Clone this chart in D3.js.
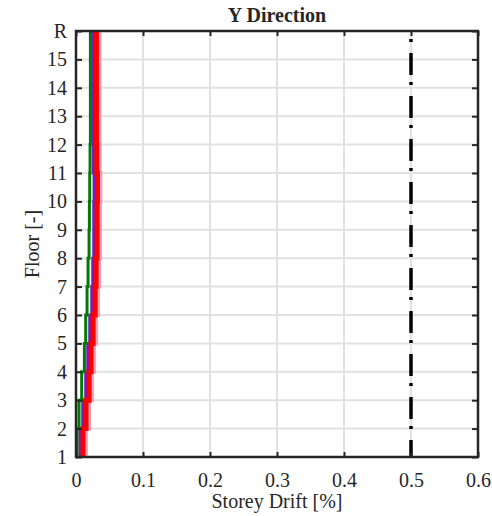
<!DOCTYPE html>
<html>
<head>
<meta charset="utf-8">
<script src="https://cdn.jsdelivr.net/npm/d3@7"></script>
<style>
  html, body { margin: 0; padding: 0; background: #fff; }
  svg { display: block; }
  text { font-family: "Liberation Serif", "Times New Roman", serif; fill: #262626; }
</style>
</head>
<body>
<svg id="chart" width="492" height="516"></svg>
<script>
// Floor levels (bottom to roof) and x-axis ticks
const floors = ["1","2","3","4","5","6","7","8","9","10","11","12","13","14","15","R"];
const xTicks = [0, 0.1, 0.2, 0.3, 0.4, 0.5, 0.6];

// Storey drift [%] per storey (storey i spans floors[i] -> floors[i+1])
const driftGreen = [0.0015, 0.0045, 0.0085, 0.0125, 0.0145, 0.0165, 0.018, 0.0195, 0.020, 0.0205, 0.021, 0.0215, 0.0215, 0.0215, 0.0215];
const driftBlue  = [0.0060, 0.0100, 0.0145, 0.0175, 0.0205, 0.0235, 0.0250, 0.0265, 0.0265, 0.027, 0.026, 0.0255, 0.0255, 0.0255, 0.0255];
const driftRed   = [0.0105, 0.0150, 0.0195, 0.0225, 0.0255, 0.0285, 0.030, 0.0315, 0.0315, 0.032, 0.031, 0.0305, 0.0305, 0.0305, 0.0305];
const driftPink  = [0.0150, 0.0195, 0.0240, 0.0270, 0.0300, 0.0330, 0.0345, 0.036, 0.036, 0.0365, 0.0355, 0.035, 0.035, 0.035, 0.035];
// Drift limit
const driftLimit = 0.5;

const svg = d3.select("#chart");
const margin = { left: 76, right: 14, top: 31, bottom: 59 };
const W = 492, H = 516;
const x = d3.scaleLinear().domain([0, 0.6]).range([margin.left, W - margin.right]);
const y = d3.scalePoint().domain(floors).range([H - margin.bottom, margin.top]);

const axisColor = "#262626";
const fontSize = "20px";

// Grid
const grid = svg.append("g");
grid.selectAll("line.gx").data(xTicks.slice(1, -1)).join("line")
  .attr("x1", d => x(d)).attr("x2", d => x(d))
  .attr("y1", y("1")).attr("y2", y("R"))
  .attr("stroke", "#e1e1e1").attr("stroke-width", 2);
grid.selectAll("line.gy").data(floors.slice(1, -1)).join("line")
  .attr("y1", d => y(d)).attr("y2", d => y(d))
  .attr("x1", x(0)).attr("x2", x(0.6))
  .attr("stroke", "#e1e1e1").attr("stroke-width", 2);

// Step profile: value held over each storey
function stepPoints(vals) {
  const pts = [];
  vals.forEach((v, i) => {
    pts.push([v, floors[i]]);
    pts.push([v, floors[i + 1]]);
  });
  return pts;
}
const line = d3.line().x(d => x(d[0])).y(d => y(d[1]));

const series = [
  { vals: driftPink, color: "#ff8da6", width: 4, opacity: 0.8 },
  { vals: driftBlue, color: "#6a1fc8", width: 3, opacity: 1 },
  { vals: driftRed, color: "#ff0000", width: 5, opacity: 1 },
  { vals: driftGreen, color: "#007a00", width: 3, opacity: 1 }
];
svg.append("g").selectAll("path").data(series).join("path")
  .attr("d", d => line(stepPoints(d.vals)))
  .attr("fill", "none")
  .attr("stroke", d => d.color)
  .attr("stroke-width", d => d.width)
  .attr("stroke-opacity", d => d.opacity);

// Drift limit line (dash-dot)
svg.append("line")
  .attr("x1", x(driftLimit)).attr("x2", x(driftLimit))
  .attr("y1", y("R")).attr("y2", y("1"))
  .attr("stroke", "#000").attr("stroke-width", 3.5)
  .attr("stroke-dasharray", "22,7,3,11")
  .attr("stroke-dashoffset", 21);

// Axes
const xAxis = d3.axisBottom(x).tickValues(xTicks).tickFormat(d3.format("")).tickSizeInner(-5).tickSizeOuter(0).tickPadding(16);
const xAxisTop = d3.axisTop(x).tickValues(xTicks).tickFormat("").tickSizeInner(-5).tickSizeOuter(0);
const yAxis = d3.axisLeft(y).tickSizeInner(-6).tickSizeOuter(0).tickPadding(9);
const yAxisRight = d3.axisRight(y).tickFormat("").tickSizeInner(-6).tickSizeOuter(0);

function styleAxis(g) {
  g.select(".domain").remove();
  g.selectAll(".tick line").attr("stroke", axisColor).attr("stroke-width", 2);
  g.selectAll(".tick text").attr("fill", axisColor)
    .style("font-family", "'Liberation Serif', serif").style("font-size", fontSize);
}
svg.append("g").attr("transform", `translate(0,${y("1")})`).call(xAxis).call(styleAxis);
svg.append("g").attr("transform", `translate(0,${y("R")})`).call(xAxisTop).call(styleAxis);
svg.append("g").attr("transform", `translate(${x(0)},0)`).call(yAxis).call(styleAxis);
svg.append("g").attr("transform", `translate(${x(0.6)},0)`).call(yAxisRight).call(styleAxis);

// Frame
svg.append("rect")
  .attr("x", x(0)).attr("y", y("R"))
  .attr("width", x(0.6) - x(0)).attr("height", y("1") - y("R"))
  .attr("fill", "none").attr("stroke", axisColor).attr("stroke-width", 2.5);

// Labels
svg.append("text").attr("x", (x(0) + x(0.6)) / 2).attr("y", 22)
  .attr("text-anchor", "middle").style("font-size", fontSize).style("font-weight", "bold")
  .attr("fill", "#000")
  .text("Y Direction");
svg.append("text").attr("x", (x(0) + x(0.6)) / 2).attr("y", 508)
  .attr("text-anchor", "middle").style("font-size", fontSize)
  .text("Storey Drift [%]");
svg.append("text")
  .attr("transform", `translate(39,${(y("1") + y("R")) / 2}) rotate(-90)`)
  .attr("text-anchor", "middle").style("font-size", fontSize)
  .text("Floor [-]");
</script>
</body>
</html>
